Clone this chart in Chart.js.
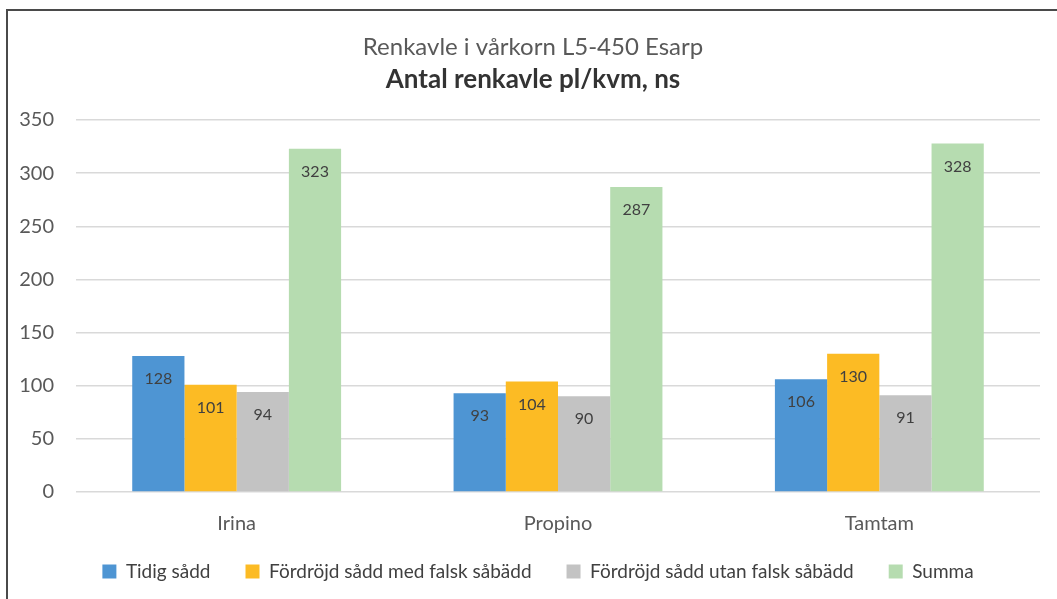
<!DOCTYPE html>
<html>
<head>
<meta charset="utf-8">
<script src="https://cdn.jsdelivr.net/npm/chart.js@4/dist/chart.umd.min.js"></script>
<style>
  html, body { margin: 0; padding: 0; background: #fff; overflow: hidden; }
  #wrap { position: absolute; left: 0; top: 0; width: 1057px; height: 599px; }
  #frame { position: absolute; left: 6px; top: 9px; width: 1200px; height: 800px; border: 2px solid #4a4a4a; box-sizing: border-box; pointer-events: none; }
</style>
</head>
<body>
<div id="wrap">
  <canvas id="c" width="1057" height="599"></canvas>
  <div id="frame"></div>
</div>
<script>
const categories = ["Irina", "Propino", "Tamtam"];
const seriesNames = ["Tidig sådd", "Fördröjd sådd med falsk såbädd", "Fördröjd sådd utan falsk såbädd", "Summa"];
const tidigSadd = [128, 93, 106];
const medFalskSabadd = [101, 104, 130];
const utanFalskSabadd = [94, 90, 91];
const summa = [323, 287, 328];
const yTicks = [0, 50, 100, 150, 200, 250, 300, 350];
const colors = ["#4E95D3", "#FCBB24", "#C3C3C3", "#B6DCB0"];

const FONT = "Lato, 'Liberation Sans', sans-serif";

const valueLabels = {
  id: 'valueLabels',
  afterDatasetsDraw(chart) {
    const ctx = chart.ctx;
    ctx.save();
    ctx.font = "16px " + FONT;
    ctx.fillStyle = "#404040";
    ctx.textAlign = "center";
    ctx.textBaseline = "middle";
    chart.data.datasets.forEach((ds, i) => {
      const meta = chart.getDatasetMeta(i);
      meta.data.forEach((bar, j) => {
        ctx.fillText(String(ds.data[j]), bar.x, bar.y + 23);
      });
    });
    ctx.restore();
  }
};

// titles are centred on the whole frame, and the legend sits closer to the axis
const boxShift = {
  id: 'boxShift',
  afterLayout(chart) {
    chart.boxes.forEach(b => {
      if (b instanceof Chart.Scale) return;
      if (b === chart.legend) {
        b.left += 18; b.right += 18;
        b.top -= 20; b.bottom -= 20;
      } else {
        b.left += 13; b.right += 13;
      }
    });
  }
};

const dataArrays = [tidigSadd, medFalskSabadd, utanFalskSabadd, summa];

new Chart(document.getElementById('c'), {
  type: 'bar',
  data: {
    labels: categories,
    datasets: dataArrays.map((d, i) => ({
      label: seriesNames[i],
      data: d,
      backgroundColor: colors[i],
      borderWidth: 0,
      categoryPercentage: 0.65,
      barPercentage: 1.0
    }))
  },
  options: {
    responsive: false,
    animation: false,
    devicePixelRatio: 1,
    layout: { padding: { top: 33, right: 17, bottom: -12, left: 0 } },
    plugins: {
      tooltip: { enabled: false },
      title: {
        display: true,
        text: "Renkavle i vårkorn L5-450 Esarp",
        color: "#595959",
        font: { family: FONT, size: 24, weight: 'normal' },
        padding: { top: 0, bottom: 2 }
      },
      subtitle: {
        display: true,
        text: "Antal renkavle pl/kvm, ns",
        color: "#333333",
        font: { family: FONT, size: 26, weight: 'bold' },
        padding: { top: 0, bottom: 25 }
      },
      legend: {
        position: 'bottom',
        labels: {
          color: "#404040",
          font: { family: FONT, size: 19 },
          boxWidth: 14,
          boxHeight: 14,
          padding: 35
        }
      }
    },
    scales: {
      x: {
        grid: { display: false, drawTicks: false },
        border: { display: false },
        ticks: { color: "#595959", font: { family: FONT, size: 20 }, padding: 20 },
        afterFit(scale) { scale.height = 55; }
      },
      y: {
        min: 0,
        max: 350,
        afterBuildTicks(scale) { scale.ticks = yTicks.map(v => ({ value: v })); },
        grid: { color: "#D9D9D9", lineWidth: 1.5, drawTicks: false },
        border: { display: false },
        ticks: { color: "#595959", font: { family: FONT, size: 20 }, padding: 22 },
        afterFit(scale) { scale.width = 76; }
      }
    }
  },
  plugins: [valueLabels, boxShift]
});
</script>
</body>
</html>
